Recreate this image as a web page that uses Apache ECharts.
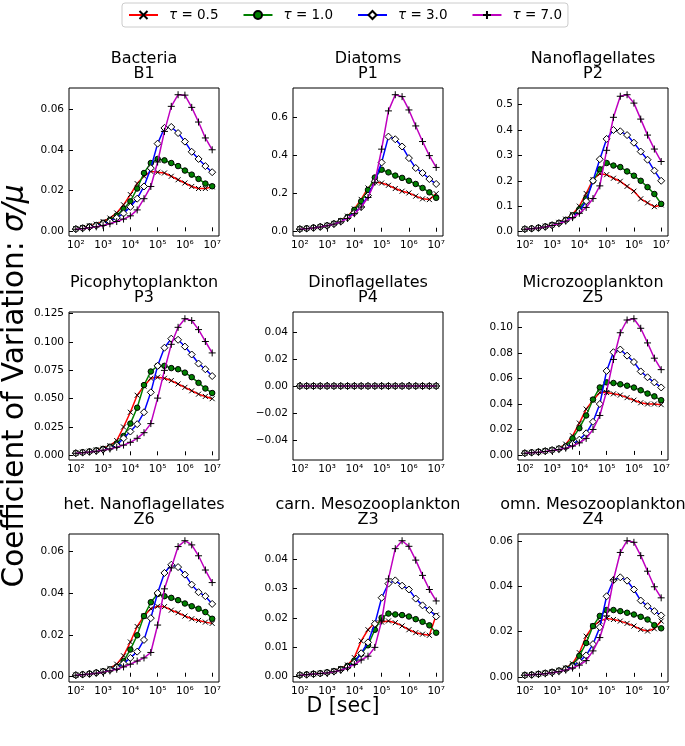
<!DOCTYPE html>
<html><head><meta charset="utf-8">
<script src="https://cdn.jsdelivr.net/npm/echarts@6/dist/echarts.min.js"></script>
<style>html,body{margin:0;padding:0;background:#fff}#c{width:685px;height:746px}</style>
</head><body><div id="c"></div>
<script>
// D [sec] sample points
const D = [100, 177.8, 316.2, 562.3, 1000, 1778, 3162, 5623, 10000, 17780, 31620, 56230,
  100000, 177800, 316200, 562300, 1000000, 1778000, 3162000, 5623000, 10000000];
const seriesNames = ['τ = 0.5', 'τ = 1.0', 'τ = 3.0', 'τ = 7.0'];
const panelTitles = ['Bacteria\nB1', 'Diatoms\nP1', 'Nanoflagellates\nP2',
  'Picophytoplankton\nP3', 'Dinoflagellates\nP4', 'Microzooplankton\nZ5',
  'het. Nanoflagellates\nZ6', 'carn. Mesozooplankton\nZ3', 'omn. Mesozooplankton\nZ4'];

const B1_t05 = [0.0013,0.0019,0.0027,0.0035,0.0048,0.0065,0.009,0.013,0.018,0.0234,0.027,0.0294,0.029,0.0286,0.027,0.0253,0.0237,0.022,0.021,0.021,0.0218];
const B1_t10 = [0.0012,0.0017,0.0024,0.0031,0.0042,0.0056,0.0077,0.011,0.0147,0.021,0.0286,0.0335,0.0355,0.0348,0.0335,0.032,0.0298,0.0278,0.0257,0.0234,0.0221];
const B1_t30 = [0.0011,0.0015,0.0021,0.0028,0.0037,0.0049,0.0066,0.0088,0.012,0.016,0.022,0.031,0.043,0.0507,0.0512,0.0482,0.044,0.039,0.0355,0.032,0.029];
const B1_t70 = [0.001,0.0013,0.0017,0.0022,0.0029,0.0037,0.0048,0.006,0.0076,0.0105,0.016,0.022,0.034,0.049,0.0613,0.067,0.0668,0.0608,0.0536,0.0458,0.040];

const P1_t05 = [0.015,0.018,0.022,0.027,0.034,0.044,0.058,0.082,0.12,0.17,0.23,0.262,0.256,0.244,0.227,0.213,0.204,0.187,0.173,0.169,0.2];
const P1_t10 = [0.015,0.018,0.022,0.027,0.033,0.043,0.056,0.077,0.115,0.16,0.22,0.285,0.326,0.312,0.295,0.283,0.268,0.251,0.23,0.207,0.178];
const P1_t30 = [0.014,0.017,0.021,0.026,0.032,0.041,0.054,0.074,0.1,0.13,0.19,0.265,0.364,0.50,0.486,0.448,0.387,0.335,0.309,0.277,0.251];
const P1_t70 = [0.013,0.016,0.02,0.025,0.031,0.04,0.052,0.07,0.095,0.13,0.18,0.26,0.434,0.635,0.72,0.71,0.64,0.556,0.474,0.40,0.338];

const P2_t05 = [0.01,0.012,0.016,0.021,0.027,0.036,0.049,0.068,0.1,0.15,0.205,0.228,0.224,0.21,0.198,0.178,0.159,0.129,0.113,0.098,0.105];
const P2_t10 = [0.01,0.012,0.015,0.02,0.026,0.034,0.046,0.064,0.088,0.13,0.2,0.245,0.27,0.26,0.254,0.237,0.22,0.2,0.175,0.148,0.109];
const P2_t30 = [0.01,0.012,0.015,0.019,0.025,0.033,0.044,0.06,0.08,0.12,0.2,0.285,0.365,0.40,0.395,0.38,0.35,0.315,0.283,0.24,0.2];
const P2_t70 = [0.009,0.011,0.014,0.018,0.024,0.031,0.041,0.055,0.072,0.095,0.13,0.18,0.32,0.45,0.533,0.539,0.506,0.443,0.38,0.325,0.276];

const P3_t05 = [0.002,0.0028,0.0036,0.0047,0.0062,0.0085,0.013,0.025,0.038,0.053,0.061,0.068,0.069,0.068,0.066,0.063,0.06,0.057,0.054,0.052,0.05];
const P3_t10 = [0.002,0.0027,0.0034,0.0044,0.0057,0.0076,0.0105,0.017,0.028,0.042,0.062,0.074,0.079,0.079,0.077,0.076,0.073,0.069,0.064,0.059,0.055];
const P3_t30 = [0.0019,0.0025,0.0032,0.004,0.0051,0.0066,0.0088,0.015,0.021,0.0275,0.038,0.0556,0.079,0.095,0.103,0.102,0.096,0.089,0.081,0.076,0.070];
const P3_t70 = [0.0018,0.0023,0.0029,0.0036,0.0045,0.0056,0.0071,0.009,0.0115,0.015,0.02,0.028,0.0505,0.075,0.098,0.113,0.1206,0.119,0.111,0.1005,0.0904];

const P4_t05 = [0,0,0,0,0,0,0,0,0,0,0,0,0,0,0,0,0,0,0,0,0];
const P4_t10 = [0,0,0,0,0,0,0,0,0,0,0,0,0,0,0,0,0,0,0,0,0];
const P4_t30 = [0,0,0,0,0,0,0,0,0,0,0,0,0,0,0,0,0,0,0,0,0];
const P4_t70 = [0,0,0,0,0,0,0,0,0,0,0,0,0,0,0,0,0,0,0,0,0];

const Z5_t05 = [0.0015,0.002,0.0025,0.0032,0.004,0.0052,0.0085,0.015,0.025,0.036,0.043,0.049,0.049,0.048,0.047,0.045,0.043,0.041,0.04,0.04,0.0395];
const Z5_t10 = [0.0015,0.002,0.0025,0.0032,0.004,0.005,0.0068,0.013,0.021,0.031,0.0435,0.053,0.057,0.0565,0.0555,0.0544,0.0529,0.0508,0.0482,0.046,0.043];
const Z5_t30 = [0.0014,0.0019,0.0024,0.003,0.0038,0.0048,0.0062,0.0085,0.012,0.017,0.026,0.04,0.066,0.0807,0.0828,0.078,0.073,0.0656,0.061,0.057,0.053];
const Z5_t70 = [0.0013,0.0017,0.0021,0.0027,0.0034,0.0042,0.0053,0.007,0.0095,0.013,0.02,0.031,0.05,0.075,0.096,0.106,0.107,0.0995,0.088,0.076,0.067];

const Z6_t05 = [0.0008,0.0011,0.0015,0.002,0.0027,0.004,0.006,0.01,0.0166,0.024,0.029,0.0325,0.0337,0.0335,0.0318,0.0306,0.029,0.0277,0.0269,0.0261,0.0255];
const Z6_t10 = [0.0008,0.0011,0.0015,0.002,0.0026,0.0035,0.0048,0.0075,0.013,0.0198,0.029,0.0356,0.0395,0.0385,0.0377,0.0366,0.035,0.0337,0.0325,0.0309,0.0277];
const Z6_t30 = [0.0008,0.0011,0.0014,0.0019,0.0025,0.0033,0.0044,0.0063,0.009,0.012,0.0176,0.028,0.04,0.0496,0.0535,0.0524,0.0488,0.044,0.0404,0.0385,0.0348];
const Z6_t70 = [0.0007,0.001,0.0013,0.0017,0.0022,0.0028,0.0036,0.0047,0.006,0.0075,0.009,0.0116,0.0247,0.042,0.052,0.0622,0.065,0.063,0.0578,0.051,0.045];

const Z3_t05 = [0.0006,0.0008,0.001,0.0012,0.0015,0.002,0.0028,0.004,0.0065,0.0122,0.016,0.0184,0.0186,0.019,0.0184,0.0173,0.016,0.015,0.0145,0.0141,0.021];
const Z3_t10 = [0.0006,0.0008,0.001,0.0012,0.0015,0.0019,0.0026,0.0037,0.0055,0.0078,0.0107,0.016,0.0201,0.0215,0.0212,0.021,0.0205,0.0196,0.0187,0.0175,0.015];
const Z3_t30 = [0.0006,0.0007,0.0009,0.0011,0.0014,0.0018,0.0024,0.0033,0.0048,0.008,0.0117,0.018,0.0269,0.0317,0.0328,0.031,0.0297,0.0266,0.0243,0.0227,0.0205];
const Z3_t70 = [0.0005,0.0007,0.0009,0.0011,0.0013,0.0017,0.0022,0.003,0.0042,0.0057,0.007,0.01,0.019,0.0333,0.0436,0.0463,0.0444,0.0397,0.0345,0.0297,0.0258];

const Z4_t05 = [0.0008,0.001,0.0013,0.0017,0.0022,0.0029,0.0039,0.0058,0.0107,0.018,0.0225,0.0247,0.0259,0.0254,0.0247,0.0237,0.0225,0.021,0.0203,0.0213,0.0247];
const Z4_t10 = [0.0008,0.001,0.0013,0.0017,0.0022,0.0028,0.0037,0.0052,0.0093,0.015,0.0225,0.027,0.0296,0.0296,0.0291,0.0284,0.0276,0.0266,0.0254,0.0229,0.0215];
const Z4_t30 = [0.0007,0.0009,0.0012,0.0016,0.002,0.0026,0.0034,0.0046,0.0068,0.0095,0.0145,0.022,0.0357,0.0428,0.0441,0.0426,0.0387,0.0338,0.0313,0.0291,0.0272];
const Z4_t70 = [0.0007,0.0009,0.0011,0.0014,0.0018,0.0023,0.003,0.0039,0.0052,0.0072,0.0115,0.0174,0.027,0.043,0.0551,0.0603,0.0596,0.0537,0.0468,0.0399,0.035];

// y tick labels per panel
const yTicks_B1 = [0, 0.02, 0.04, 0.06];
const yTicks_P1 = [0, 0.2, 0.4, 0.6];
const yTicks_P2 = [0, 0.1, 0.2, 0.3, 0.4, 0.5];
const yTicks_P3 = [0, 0.025, 0.05, 0.075, 0.1, 0.125];
const yTicks_P4 = [-0.04, -0.02, 0, 0.02, 0.04];
const yTicks_Z5 = [0, 0.02, 0.04, 0.06, 0.08, 0.1];
const yTicks_Z6 = [0, 0.02, 0.04, 0.06];
const yTicks_Z3 = [0, 0.01, 0.02, 0.03, 0.04];
const yTicks_Z4 = [0, 0.02, 0.04, 0.06];
const yDecimals = [2, 1, 1, 3, 2, 2, 2, 2, 2];
const xTickExp = [2, 3, 4, 5, 6, 7];

const panelData = [
  [B1_t05, B1_t10, B1_t30, B1_t70], [P1_t05, P1_t10, P1_t30, P1_t70], [P2_t05, P2_t10, P2_t30, P2_t70],
  [P3_t05, P3_t10, P3_t30, P3_t70], [P4_t05, P4_t10, P4_t30, P4_t70], [Z5_t05, Z5_t10, Z5_t30, Z5_t70],
  [Z6_t05, Z6_t10, Z6_t30, Z6_t70], [Z3_t05, Z3_t10, Z3_t30, Z3_t70], [Z4_t05, Z4_t10, Z4_t30, Z4_t70]];
const panelTicks = [yTicks_B1, yTicks_P1, yTicks_P2, yTicks_P3, yTicks_P4, yTicks_Z5, yTicks_Z6, yTicks_Z3, yTicks_Z4];

const FONT = 'DejaVu Sans';
const lineColors = ['#ff0000', '#008000', '#0000ff', '#bf00bf'];
const symbols = ['path://M0,0L10,10M10,0L0,10', 'circle', 'diamond', 'path://M5,0L5,10M0,5L10,5'];
const symSizes = [5, 5.5, 7, 7];
const symFill = ['rgba(0,0,0,0)', '#008000', '#ffffff', 'rgba(0,0,0,0)'];
const colLeft = [69, 293, 518];
const rowTop = [88, 312, 534];
const GW = 150, GH = 148;
const sup = {2: '²', 3: '³', 4: '⁴', 5: '⁵', 6: '⁶', 7: '⁷'};

const grids = [], xAxes = [], yAxes = [], series = [], graphics = [];
panelData.forEach((sets, p) => {
  const r = Math.floor(p / 3), c = p % 3;
  grids.push({left: colLeft[c], top: rowTop[r], width: GW, height: GH, show: true,
    borderColor: '#000', borderWidth: 1, backgroundColor: 'transparent'});
  let lo = Infinity, hi = -Infinity;
  sets.forEach(s => s.forEach(v => { lo = Math.min(lo, v); hi = Math.max(hi, v); }));
  let ymin, ymax;
  if (hi - lo < 1e-12) { ymin = lo - 0.055; ymax = hi + 0.055; }
  else { const m = (hi - lo) * 0.05; ymin = lo - m; ymax = hi + m; }
  xAxes.push({type: 'log', logBase: 10, gridIndex: p, min: Math.pow(10, 1.75), max: Math.pow(10, 7.25),
    axisLine: {show: false},
    axisTick: {show: true, inside: true, length: 4, lineStyle: {color: '#000', width: 1},
      customValues: xTickExp.map(e => Math.pow(10, e))},
    minorTick: {show: false},
    splitLine: {show: false},
    axisLabel: {show: true, margin: 4, color: '#000', fontFamily: FONT, fontSize: 10.5,
      customValues: xTickExp.map(e => Math.pow(10, e)),
      formatter: v => { const e = Math.round(Math.log10(v)); return Math.abs(Math.log10(v) - e) < 0.01 ? '10' + (sup[e] || e) : ''; }}
  });
  const dec = yDecimals[p];
  yAxes.push({type: 'value', gridIndex: p, min: ymin, max: ymax, scale: true,
    axisLine: {show: false},
    splitLine: {show: false},
    axisTick: {show: true, inside: true, length: 4, lineStyle: {color: '#000', width: 1}, customValues: panelTicks[p]},
    axisLabel: {show: true, margin: 5, color: '#000', fontFamily: FONT, fontSize: 10.5, customValues: panelTicks[p],
      formatter: v => { const s = Math.abs(v).toFixed(dec); return (v < -1e-12 ? '\u2212' : '') + s; }}
  });
  sets.forEach((vals, k) => {
    series.push({
      name: seriesNames[k], type: 'line', xAxisIndex: p, yAxisIndex: p,
      data: vals.map((v, i) => [D[i], v]),
      color: lineColors[k],
      lineStyle: {color: lineColors[k], width: 1.5},
      symbol: symbols[k], symbolSize: symSizes[k], showAllSymbol: true,
      itemStyle: {color: symFill[k], borderColor: '#000', borderWidth: 1},
      emphasis: {disabled: true}, silent: true, animation: false, z: 2 + k
    });
  });
  graphics.push({type: 'text', x: colLeft[c] + GW / 2, y: rowTop[r] - 37,
    style: {text: panelTitles[p], textAlign: 'center', textVerticalAlign: 'top',
      font: '16px "DejaVu Sans"', lineHeight: 15.5, fill: '#000'}});
});

graphics.push({type: 'text', x: 15, y: 386, rotation: Math.PI / 2,
  style: {text: '{a|Coefficient of Variation: }{b|σ/μ}', textAlign: 'center', textVerticalAlign: 'middle',
    rich: {a: {fontFamily: FONT, fontSize: 29.5, fill: '#000'}, b: {fontFamily: FONT, fontSize: 29.5, fontStyle: 'italic', fill: '#000'}},
    fill: '#000'}});
graphics.push({type: 'text', x: 343, y: 707,
  style: {text: 'D [sec]', textAlign: 'center', textVerticalAlign: 'middle',
    font: '20.5px "DejaVu Sans"', fill: '#000'}});

const chart = echarts.init(document.getElementById('c'), null, {renderer: 'canvas'});
chart.setOption({
  animation: false,
  backgroundColor: '#fff',
  legend: {data: seriesNames, left: 122, top: 3, orient: 'horizontal',
    itemWidth: 29, itemHeight: 10, itemGap: 24, padding: [5, 6, 5, 6],
    borderColor: '#cccccc', borderWidth: 1, borderRadius: 3, selectedMode: false,
    formatter: n => '{i|τ}' + n.slice(1),
    textStyle: {fontFamily: FONT, fontSize: 13.5, color: '#000', padding: [0, 0, 0, 6],
      rich: {i: {fontFamily: FONT, fontSize: 13.5, fontStyle: 'italic', color: '#000'}}}},
  grid: grids, xAxis: xAxes, yAxis: yAxes, series: series, graphic: graphics
});
</script></body></html>
